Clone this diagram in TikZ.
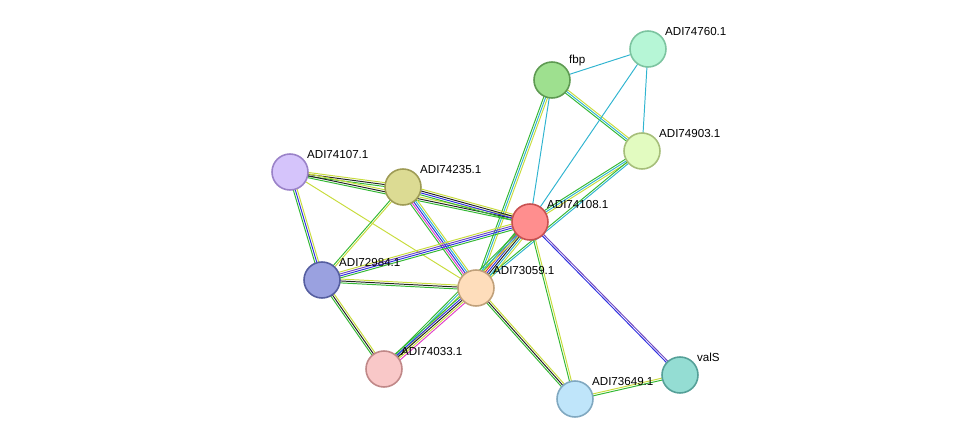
\documentclass[tikz,border=0pt]{standalone}
\usepackage{fontspec}
\setmainfont{Liberation Sans}
\usetikzlibrary{calc,backgrounds}
\definecolor{cNb}{HTML}{33B833}
\definecolor{cTm}{HTML}{C8DC3C}
\definecolor{cDb}{HTML}{30B4D0}
\definecolor{cCo}{HTML}{222222}
\definecolor{cBl}{HTML}{3030E0}
\definecolor{cMg}{HTML}{E040C8}
\definecolor{cPu}{HTML}{7048C0}
\definecolor{cRd}{HTML}{E03030}
\definecolor{fFbp}{HTML}{9EE08F}\definecolor{dFbp}{HTML}{5E9A52}
\definecolor{fMint}{HTML}{B6F6D6}\definecolor{dMint}{HTML}{7CC4A0}
\definecolor{fLime}{HTML}{E2FBC0}\definecolor{dLime}{HTML}{A6BE7A}
\definecolor{fLav}{HTML}{D5C4FB}\definecolor{dLav}{HTML}{9A82C8}
\definecolor{fKhaki}{HTML}{DCDB93}\definecolor{dKhaki}{HTML}{9E9B55}
\definecolor{fRed}{HTML}{FF8E8E}\definecolor{dRed}{HTML}{C85050}
\definecolor{fBlue}{HTML}{9AA1E0}\definecolor{dBlue}{HTML}{555EA0}
\definecolor{fPeach}{HTML}{FEDDBB}\definecolor{dPeach}{HTML}{C0A07A}
\definecolor{fPink}{HTML}{F9C8C8}\definecolor{dPink}{HTML}{C08888}
\definecolor{fSky}{HTML}{BFE5FA}\definecolor{dSky}{HTML}{80A8C0}
\definecolor{fTeal}{HTML}{94DDD3}\definecolor{dTeal}{HTML}{55A098}
\tikzset{
    prot/.style={circle, minimum size=0.72cm, inner sep=0pt, line width=0.9pt, fill=f#1, draw=d#1},
    lbl/.style={anchor=south west, inner sep=0pt, xshift=2pt, font=\fontsize{6.6}{8}\selectfont},
    edge/.style={line width=0.55pt}
}
% one stripe per evidence colour, side by side
\newcommand{\lnk}[3]{%
  \foreach \c [count=\k] in {#3}{\xdef\nlnk{\k}}%
  \foreach \c [count=\k] in {#3}{%
    \pgfmathsetmacro\off{(\k-(\nlnk+1)/2)*1.1}%
    \draw[edge,\c] ($(#1)!\off pt!90:(#2)$) -- ($(#2)!\off pt!-90:(#1)$);}}
\begin{document}
\begin{tikzpicture}[x=0.02cm,y=-0.02cm]
    \useasboundingbox (0,0) rectangle (975,445);
    % proteins
    \node[prot=Fbp, label={[lbl]45:fbp}] (fbp) at (552,80) {};
    \node[prot=Mint, label={[lbl]45:ADI74760.1}] (p760) at (648,49) {};
    \node[prot=Lime, label={[lbl]45:ADI74903.1}] (p903) at (642,151) {};
    \node[prot=Lav, label={[lbl]45:ADI74107.1}] (p107) at (290,172) {};
    \node[prot=Khaki, label={[lbl]45:ADI74235.1}] (p235) at (403,187) {};
    \node[prot=Red, label={[lbl]45:ADI74108.1}] (p108) at (530,222) {};
    \node[prot=Blue, label={[lbl]45:ADI72984.1}] (p984) at (322,280) {};
    \node[prot=Peach, label={[lbl]45:ADI73059.1}] (p059) at (476,288) {};
    \node[prot=Pink, label={[lbl]45:ADI74033.1}] (p033) at (384,369) {};
    \node[prot=Sky, label={[lbl]45:ADI73649.1}] (p649) at (575,399) {};
    \node[prot=Teal, label={[lbl]45:valS}] (vals) at (680,375) {};

    % links
    \begin{scope}[on background layer]
    \lnk{fbp}{p760}{cDb}
    \lnk{fbp}{p903}{cNb,cDb,cTm}
    \lnk{fbp}{p108}{cDb}
    \lnk{fbp}{p059}{cNb,cDb,cTm}
    \lnk{p760}{p903}{cDb}
    \lnk{p760}{p108}{cDb}
    \lnk{p903}{p108}{cNb,cDb,cTm}
    \lnk{p903}{p059}{cNb,cDb}
    \lnk{p107}{p235}{cNb,cCo,cTm}
    \lnk{p107}{p108}{cNb,cCo,cTm}
    \lnk{p107}{p984}{cNb,cBl,cTm}
    \lnk{p107}{p059}{cTm}
    \lnk{p235}{p108}{cNb,cBl,cCo,cTm}
    \lnk{p235}{p984}{cNb,cTm}
    \lnk{p235}{p059}{cNb,cMg,cBl,cDb,cTm}
    \lnk{p984}{p108}{cNb,cBl,cPu,cTm}
    \lnk{p984}{p059}{cNb,cCo,cTm}
    \lnk{p984}{p033}{cNb,cCo,cTm}
    \lnk{p108}{p059}{cNb,cRd,cBl,cCo,cDb,cTm}
    \lnk{p108}{p033}{cNb,cDb,cTm}
    \lnk{p059}{p033}{cNb,cBl,cCo,cTm,cMg}
    \lnk{p108}{vals}{cBl,cPu}
    \lnk{p108}{p649}{cNb,cTm}
    \lnk{p059}{p649}{cNb,cCo,cTm}
    \lnk{p649}{vals}{cNb,cTm}
    \end{scope}
\end{tikzpicture}
\end{document}
